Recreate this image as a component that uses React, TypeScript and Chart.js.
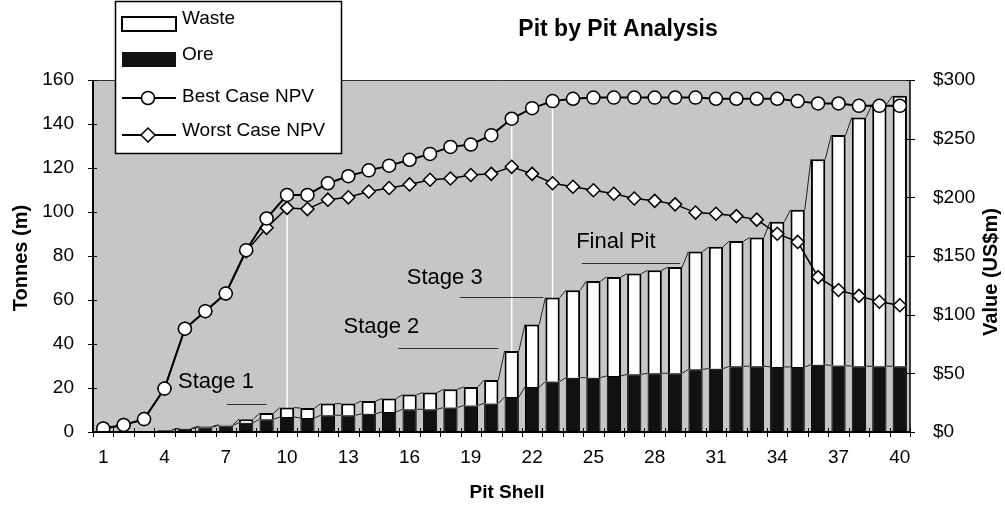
import { useEffect, useRef } from 'react';
import { Chart, registerables } from 'chart.js';

Chart.register(...registerables);

const pitShells = ['1', '2', '3', '4', '5', '6', '7', '8', '9', '10', '11', '12', '13', '14', '15', '16', '17', '18', '19', '20', '21', '22', '23', '24', '25', '26', '27', '28', '29', '30', '31', '32', '33', '34', '35', '36', '37', '38', '39', '40'];

// Tonnes (m)
const oreTonnes = [null, null, null, 0.8, 1.5, 2.2, 3.0, 4.2, 5.8, 6.8, 6.4, 7.6, 7.6, 8.3, 9.1, 10.3, 10.3, 11.1, 12.1, 13.0, 15.9, 20.5, 22.9, 24.7, 24.7, 25.5, 26.2, 26.7, 26.7, 28.5, 28.8, 29.9, 29.9, 29.6, 29.6, 30.6, 30.2, 29.9, 29.9, 29.9];
const wasteTonnes = [null, null, null, null, 0.3, 0.4, 0.3, 1.6, 2.8, 4.3, 4.5, 5.3, 5.3, 5.8, 6.1, 6.7, 7.6, 8.3, 8.4, 10.6, 20.9, 28.4, 38.2, 39.7, 43.9, 45.0, 45.8, 46.8, 48.3, 53.5, 55.4, 56.9, 58.5, 66.0, 71.4, 93.4, 104.8, 113.1, 119.1, 122.9];

// Value (US$m)
const bestCaseNPV = [3, 6, 11, 37, 88, 103, 118, 155, 182, 202, 202, 212, 218, 223, 227, 232, 237, 243, 245, 253, 267, 276, 282, 284, 285, 285, 285, 285, 285, 285, 284, 284, 284, 284, 282, 280, 280, 278, 278, 278];
const worstCaseNPV = [3, 6, 11, 37, 88, 103, 118, 154, 174, 191, 190, 198, 200, 205, 208, 211, 215, 216, 219, 220, 226, 220, 212, 209, 206, 203, 199, 197, 194, 187, 186, 184, 181, 169, 162, 132, 121, 116, 111, 108];

const tonnesTicks = [0, 20, 40, 60, 80, 100, 120, 140, 160];
const valueTicks = [0, 50, 100, 150, 200, 250, 300];

// stage pit shells (0-based category index) marked with white drop lines
const stageShellIndex = [9, 20, 22];

// annotation placement in data units (category index, tonnes)
const stageNotes = [
  { text: 'Stage 1', tx: 5.52, ty: 22.9, x1: 6.05, x2: 8.0, ly: 12.6 },
  { text: 'Stage 2', tx: 13.62, ty: 47.9, x1: 14.45, x2: 19.34, ly: 38.3 },
  { text: 'Stage 3', tx: 16.72, ty: 69.9, x1: 17.47, x2: 21.55, ly: 61.5 },
  { text: 'Final Pit', tx: 25.1, ty: 86.5, x1: 23.43, x2: 28.25, ly: 77.0 },
];

const FONT = '"Liberation Sans", Arial, sans-serif';

const decorPlugin = {
  id: 'pitDecor',
  beforeDraw(chart: any) {
    const { ctx, chartArea: a } = chart;
    ctx.save();
    ctx.fillStyle = '#c6c6c6';
    ctx.fillRect(a.left, a.top, a.right - a.left, a.bottom - a.top);
    ctx.restore();
  },
  afterDatasetDraw(chart: any, args: any) {
    if (args.index !== 0) return;
    const { ctx } = chart;
    const oreMeta = chart.getDatasetMeta(0);
    const wasteMeta = chart.getDatasetMeta(1);
    const bestMeta = chart.getDatasetMeta(2);
    ctx.save();
    ctx.strokeStyle = '#222';
    ctx.lineWidth = 1;
    const topOf = (i: number) => {
      if (wasteTonnes[i] != null) return wasteMeta.data[i];
      if (oreTonnes[i] != null) return oreMeta.data[i];
      return null;
    };
    for (let i = 0; i < pitShells.length - 1; i++) {
      const a = topOf(i);
      const b = topOf(i + 1);
      if (a && b) {
        ctx.beginPath();
        ctx.moveTo(a.x + a.width / 2, a.y);
        ctx.lineTo(b.x - b.width / 2, b.y);
        ctx.stroke();
      }
      if (oreTonnes[i] != null && oreTonnes[i + 1] != null) {
        const c = oreMeta.data[i];
        const d = oreMeta.data[i + 1];
        ctx.beginPath();
        ctx.moveTo(c.x + c.width / 2, c.y);
        ctx.lineTo(d.x - d.width / 2, d.y);
        ctx.stroke();
      }
    }
    ctx.strokeStyle = '#ffffff';
    ctx.lineWidth = 1.5;
    stageShellIndex.forEach((i) => {
      const p = bestMeta.data[i];
      const bar = topOf(i);
      if (!p || !bar) return;
      ctx.beginPath();
      ctx.moveTo(p.x, p.y + 7);
      ctx.lineTo(p.x, bar.y);
      ctx.stroke();
    });
    ctx.restore();
  },
  afterDraw(chart: any) {
    const { ctx, chartArea: a, scales } = chart;
    const xs = scales.x;
    const ys = scales.y;
    const y1 = scales.y1;
    ctx.save();

    // plot frame
    ctx.strokeStyle = '#333';
    ctx.lineWidth = 1;
    ctx.beginPath();
    ctx.moveTo(a.left, a.top + 0.5);
    ctx.lineTo(a.right, a.top + 0.5);
    ctx.stroke();
    ctx.strokeStyle = '#000';
    ctx.lineWidth = 2;
    ctx.beginPath();
    ctx.moveTo(a.left, a.top);
    ctx.lineTo(a.left, a.bottom);
    ctx.lineTo(a.right, a.bottom);
    ctx.stroke();
    ctx.lineWidth = 1.5;
    ctx.beginPath();
    ctx.moveTo(a.right, a.top);
    ctx.lineTo(a.right, a.bottom);
    ctx.stroke();

    // tick marks (crossing)
    ctx.lineWidth = 1;
    ctx.beginPath();
    tonnesTicks.forEach((v) => {
      const y = Math.round(ys.getPixelForValue(v)) + 0.5;
      ctx.moveTo(a.left - 5, y);
      ctx.lineTo(a.left + 4, y);
    });
    valueTicks.forEach((v) => {
      const y = Math.round(y1.getPixelForValue(v)) + 0.5;
      ctx.moveTo(a.right - 4, y);
      ctx.lineTo(a.right + 5, y);
    });
    for (let i = 0; i <= pitShells.length; i++) {
      const x = Math.round(xs.getPixelForValue(i - 0.5)) + 0.5;
      ctx.moveTo(x, a.bottom - 4);
      ctx.lineTo(x, a.bottom + 5);
    }
    ctx.stroke();

    // stage annotations
    ctx.fillStyle = '#000';
    ctx.font = `22px ${FONT}`;
    ctx.textAlign = 'center';
    ctx.textBaseline = 'middle';
    ctx.strokeStyle = '#333';
    ctx.lineWidth = 1;
    stageNotes.forEach((n) => {
      ctx.fillText(n.text, xs.getPixelForValue(n.tx), ys.getPixelForValue(n.ty));
      const ly = Math.round(ys.getPixelForValue(n.ly)) + 0.5;
      ctx.beginPath();
      ctx.moveTo(xs.getPixelForValue(n.x1), ly);
      ctx.lineTo(xs.getPixelForValue(n.x2), ly);
      ctx.stroke();
    });

    // titles
    ctx.font = `bold 23px ${FONT}`;
    ctx.fillText('Pit by Pit Analysis', 618, 30);
    ctx.font = `bold 19px ${FONT}`;
    ctx.fillText('Pit Shell', 507, 493);
    ctx.font = `bold 20px ${FONT}`;
    ctx.save();
    ctx.translate(21, 258);
    ctx.rotate(-Math.PI / 2);
    ctx.fillText('Tonnes (m)', 0, 0);
    ctx.restore();
    ctx.save();
    ctx.translate(991, 272);
    ctx.rotate(-Math.PI / 2);
    ctx.fillText('Value (US$m)', 0, 0);
    ctx.restore();

    // legend
    const lx = 115, ly0 = 1, lw = 226, lh = 152;
    ctx.fillStyle = '#fff';
    ctx.fillRect(lx, ly0, lw, lh);
    ctx.strokeStyle = '#000';
    ctx.lineWidth = 1.5;
    ctx.strokeRect(lx + 0.5, ly0 + 0.5, lw, lh);
    const sx1 = 122, sx2 = 176, tx = 182;
    // Waste swatch
    ctx.fillStyle = '#fff';
    ctx.fillRect(sx1, 17, sx2 - sx1, 14);
    ctx.lineWidth = 2;
    ctx.strokeRect(sx1, 17, sx2 - sx1, 14);
    // Ore swatch
    ctx.fillStyle = '#111';
    ctx.fillRect(sx1, 52, sx2 - sx1, 15);
    // Best / Worst line swatches
    ctx.lineWidth = 2;
    ctx.beginPath();
    ctx.moveTo(sx1, 98);
    ctx.lineTo(sx2, 98);
    ctx.moveTo(sx1, 135);
    ctx.lineTo(sx2, 135);
    ctx.stroke();
    ctx.fillStyle = '#fff';
    ctx.lineWidth = 1.5;
    ctx.beginPath();
    ctx.arc(148, 98, 6.5, 0, Math.PI * 2);
    ctx.fill();
    ctx.stroke();
    ctx.beginPath();
    ctx.moveTo(148, 128);
    ctx.lineTo(155, 135);
    ctx.lineTo(148, 142);
    ctx.lineTo(141, 135);
    ctx.closePath();
    ctx.fill();
    ctx.stroke();
    ctx.fillStyle = '#000';
    ctx.font = `19px ${FONT}`;
    ctx.textAlign = 'left';
    ctx.textBaseline = 'middle';
    const labels = chart.data.datasets.map((d: any) => d.label);
    ctx.fillText(labels[1], tx, 19);
    ctx.fillText(labels[0], tx, 55);
    ctx.fillText(labels[2], tx, 97);
    ctx.fillText(labels[3], tx, 131);

    ctx.restore();
  },
};

export default function App() {
  const canvasRef = useRef<HTMLCanvasElement | null>(null);

  useEffect(() => {
    const canvas = canvasRef.current;
    if (!canvas) return;
    const tickFont = { family: FONT, size: 19 };
    const chart = new Chart(canvas, {
      type: 'bar',
      data: {
        labels: pitShells,
        datasets: [
          {
            type: 'bar',
            label: 'Ore',
            data: oreTonnes as any,
            yAxisID: 'y',
            backgroundColor: '#111111',
            borderColor: '#000000',
            borderWidth: 1,
            barPercentage: 0.7,
            categoryPercentage: 1,
            order: 3,
          },
          {
            type: 'bar',
            label: 'Waste',
            data: wasteTonnes as any,
            yAxisID: 'y',
            backgroundColor: '#ffffff',
            borderColor: '#000000',
            borderWidth: 2,
            barPercentage: 0.7,
            categoryPercentage: 1,
            order: 3,
          },
          {
            type: 'line',
            label: 'Best Case NPV',
            data: bestCaseNPV,
            yAxisID: 'y1',
            borderColor: '#000',
            borderWidth: 2,
            pointStyle: 'circle',
            pointRadius: 6.5,
            pointBackgroundColor: '#fff',
            pointBorderColor: '#000',
            pointBorderWidth: 1.5,
            tension: 0,
            order: 0,
          },
          {
            type: 'line',
            label: 'Worst Case NPV',
            data: worstCaseNPV,
            yAxisID: 'y1',
            borderColor: '#000',
            borderWidth: 1.5,
            pointStyle: 'rectRot',
            pointRadius: 6.5,
            pointBackgroundColor: '#fff',
            pointBorderColor: '#000',
            pointBorderWidth: 1.5,
            tension: 0,
            order: 1,
          },
        ],
      },
      options: {
        responsive: false,
        animation: false,
        layout: { padding: { top: 80, left: 0, right: 0, bottom: 0 } },
        plugins: {
          legend: { display: false },
          title: { display: false },
          tooltip: { enabled: false },
        },
        scales: {
          x: {
            type: 'category',
            offset: true,
            stacked: true,
            grid: { display: false },
            border: { display: false },
            ticks: {
              autoSkip: false,
              maxRotation: 0,
              minRotation: 0,
              padding: 6,
              color: '#000',
              font: tickFont,
              callback: (_v: any, i: number) => (i % 3 === 0 ? pitShells[i] : ''),
            },
            afterFit: (s: any) => {
              s.height = 76;
            },
          },
          y: {
            position: 'left',
            stacked: true,
            min: 0,
            max: 160,
            grid: { display: false },
            border: { display: false },
            ticks: { padding: 11, color: '#000', font: tickFont },
            afterBuildTicks: (s: any) => {
              s.ticks = tonnesTicks.map((v) => ({ value: v }));
            },
            afterFit: (s: any) => {
              s.width = 93;
            },
          },
          y1: {
            position: 'right',
            min: 0,
            max: 300,
            grid: { display: false },
            border: { display: false },
            ticks: {
              padding: 15,
              color: '#000',
              font: tickFont,
              callback: (v: any) => '$' + v,
            },
            afterBuildTicks: (s: any) => {
              s.ticks = valueTicks.map((v) => ({ value: v }));
            },
            afterFit: (s: any) => {
              s.width = 95;
            },
          },
        },
      } as any,
      plugins: [decorPlugin],
    });
    return () => chart.destroy();
  }, []);

  return (
    <div style={{ position: 'fixed', left: 0, top: 0, width: 1005, height: 508, background: '#fff' }}>
      <canvas ref={canvasRef} width={1005} height={508} style={{ width: 1005, height: 508, display: 'block' }} />
    </div>
  );
}
